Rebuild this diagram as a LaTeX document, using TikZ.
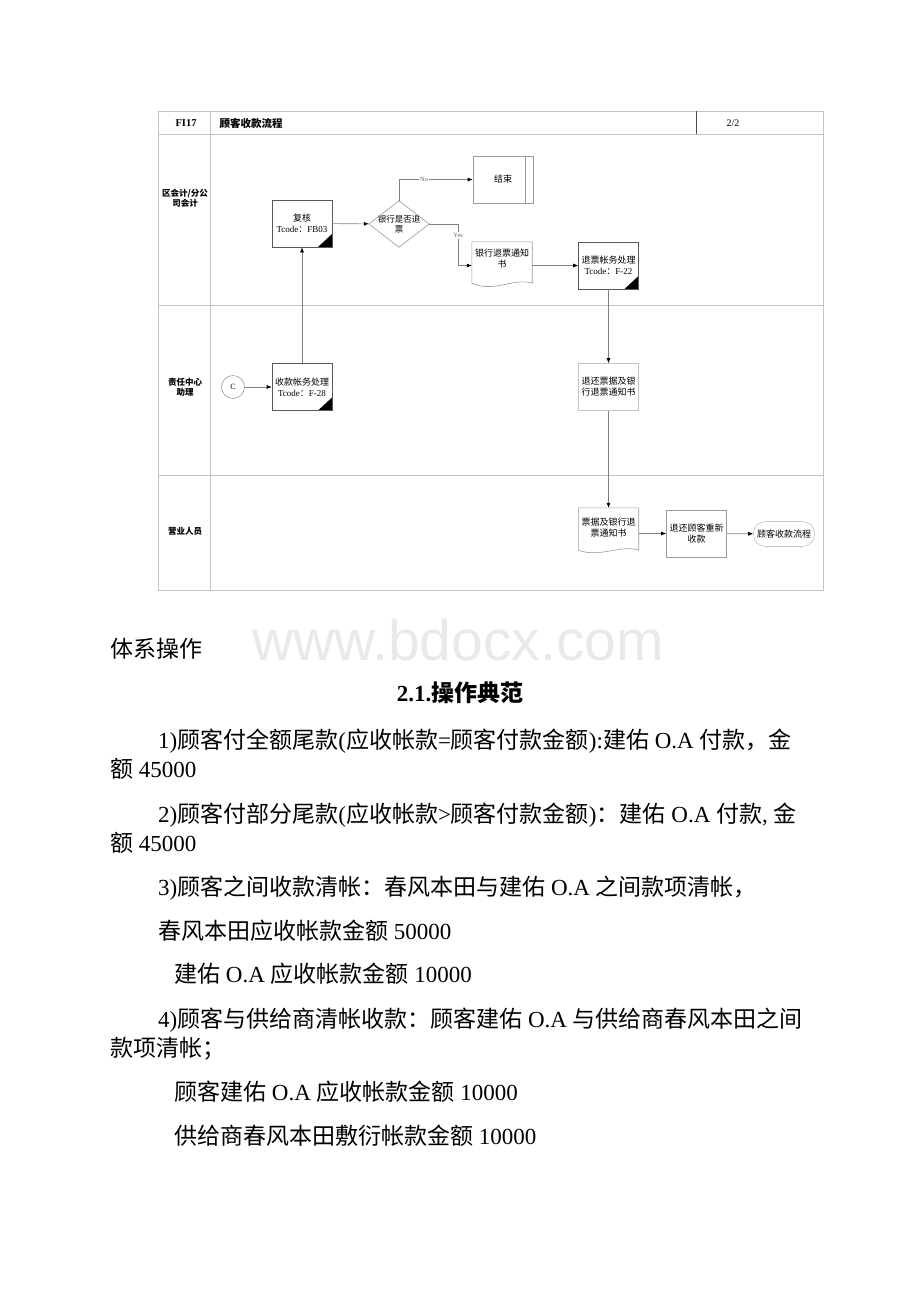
\documentclass[tikz,border=0pt]{standalone}
\usepackage{fontspec}
\setmainfont{Liberation Serif}
\newfontfamily\cjk{Noto Sans CJK SC}
\newfontfamily\marksans{Liberation Sans}
\usetikzlibrary{arrows.meta,positioning}

\newcommand{\cn}[1]{{\cjk #1}}
\newcommand{\dfont}{\fontsize{9pt}{11pt}\selectfont}

\definecolor{laneGray}{HTML}{C4C4C4}
\definecolor{boxGray}{HTML}{9A9A9A}
\definecolor{flowGray}{HTML}{808080}
\definecolor{markGray}{HTML}{E9E9E9}

\tikzset{
  lane/.style={draw=laneGray, line width=0.8pt},
  box/.style={draw=boxGray, fill=white, line width=0.6pt, minimum width=60pt, minimum height=47pt, inner sep=1pt, align=center, font=\dfont},
  task/.style={box, draw=black!65, path picture={\fill[black] (path picture bounding box.south east) -- ++(-14pt,0pt) -- ++(14pt,13pt) -- cycle;}},
  paper/.style={align=center, font=\dfont, minimum width=60pt, inner sep=1pt},
  flow/.style={draw=flowGray, line width=0.6pt, -{Latex[length=5pt,width=4pt,color=black]}},
  tag/.style={font=\fontsize{6.5pt}{7pt}\selectfont, text=black!60, fill=white, inner sep=1pt},
  lanename/.style={align=center, font=\cjk\fontsize{8.5pt}{10pt}\selectfont\bfseries},
  body/.style={anchor=base west, inner sep=0pt, font=\fontsize{23pt}{28pt}\selectfont},
}

\begin{document}
\begin{tikzpicture}[x=1pt, y=-1pt]
    \useasboundingbox (0,0) rectangle (920,1302);

    % swim lanes
    \draw[lane] (158,111) rectangle (823,590);
    \draw[lane] (158,134) -- (823,134);
    \draw[lane] (158,305) -- (823,305);
    \draw[lane] (158,475) -- (823,475);
    \draw[lane] (210,111) -- (210,590);
    \draw[black!70, line width=0.7pt] (696,111) -- (696,134);

    \node[font=\bfseries\fontsize{10.5pt}{12pt}\selectfont] (code) at (186,123) {FI17};
    \node[anchor=west, font=\cjk\bfseries\fontsize{10.5pt}{12pt}\selectfont] (title) at (216,123) {顾客收款流程};
    \node[font=\fontsize{10pt}{11pt}\selectfont] (page) at (733,123) {2/2};

    \node[lanename] (lane1) at (185,198) {区会计/分公\\司会计};
    \node[lanename] (lane2) at (185,387) {责任中心\\助理};
    \node[lanename] (lane3) at (185,531) {营业人员};

    % steps
    \node[circle, draw=boxGray, line width=0.6pt, minimum size=23pt, inner sep=0pt, font=\fontsize{8pt}{9pt}\selectfont] (c) at (233,387) {C};
    \node[task] (shou) at (302,387) {\cn{收款帐务处理}\\Tcode\cn{：}F-28};
    \node[task] (fuhe) at (302,223.5) {\cn{复核}\\Tcode\cn{：}FB03};
    \node[minimum width=60pt, minimum height=46pt, inner sep=0pt, align=center, font=\fontsize{8.5pt}{10pt}\selectfont] (dia) at (399,224) {\cn{银行是否退}\\\cn{票}};
    \draw[boxGray, line width=0.6pt] (dia.north) -- (dia.east) -- (dia.south) -- (dia.west) -- cycle;
    \node[box] (end) at (503,179.5) {\cn{结束}};
    \draw[boxGray, line width=0.6pt] ([xshift=-8pt]end.north east) -- ([xshift=-8pt]end.south east);
    \node[paper, minimum height=34pt] (doc1) at (502,259) {\cn{银行退票通知}\\\cn{书}};
    \draw[boxGray, line width=0.6pt] ([yshift=-7pt]doc1.south west) -- (doc1.north west) -- (doc1.north east) -- ([yshift=-7pt]doc1.south east)
        .. controls +(-18pt,6pt) and +(22pt,-10pt) .. ([yshift=-7pt]doc1.south west);
    \node[task] (tuipiao) at (608.5,265.5) {\cn{退票帐务处理}\\Tcode\cn{：}F-22};
    \node[box, draw=laneGray] (tuihuan) at (608.5,387) {\cn{退还票据及银}\\\cn{行退票通知书}};
    \node[paper, minimum height=40pt] (doc2) at (608.5,528) {\cn{票据及银行退}\\\cn{票通知书}};
    \draw[boxGray, line width=0.6pt] ([yshift=-2pt]doc2.south west) -- (doc2.north west) -- (doc2.north east) -- ([yshift=-2pt]doc2.south east)
        .. controls +(-18pt,6pt) and +(22pt,-8pt) .. ([yshift=-2pt]doc2.south west);
    \node[box] (shou2) at (696.5,533.5) {\cn{退还顾客重新}\\\cn{收款}};
    \node[draw=laneGray, line width=0.6pt, rounded corners=12pt, minimum width=61pt, minimum height=25pt, inner sep=1pt, font=\dfont] (fin) at (784,534) {\cn{顾客收款流程}};

    % connectors
    \draw[flow] (c) -- (shou);
    \draw[flow] (shou) -- (fuhe);
    \draw[flow] (fuhe) -- (dia);
    \draw[flow] (dia.north) |- (end.west) node[tag, pos=0.67] {No};
    \draw[flow] (dia.east) -- ++(29pt,0pt) |- (doc1.west |- tuipiao) node[tag, pos=0.14] {Yes};
    \draw[flow] (doc1.east |- tuipiao) -- (tuipiao);
    \draw[flow] (tuipiao) -- (tuihuan);
    \draw[flow] (tuihuan) -- (doc2);
    \draw[flow] (doc2.east |- shou2) -- (shou2);
    \draw[flow] (shou2) -- (fin);

    \node[anchor=base, inner sep=0pt, text=markGray, font=\marksans\fontsize{57pt}{57pt}\selectfont] (mark) at (458,660) {www.bdocx.com};

    % text below
    \node[body] (t0) at (110,657) {\cn{体系操作}};
    \node[body, anchor=base, font=\bfseries\fontsize{23pt}{28pt}\selectfont] (t1) at (460,701) {2.1.\cn{操作典范}};
    \node[body] (t2) at (158,748) {1)\cn{顾客付全额尾款}(\cn{应收帐款}=\cn{顾客付款金额}):\cn{建佑} O.A \cn{付款，金}};
    \node[body] (t3) at (110,777) {\cn{额} 45000};
    \node[body] (t4) at (158,822) {2)\cn{顾客付部分尾款}(\cn{应收帐款}>\cn{顾客付款金额})\cn{：建佑} O.A \cn{付款}, \cn{金}};
    \node[body] (t5) at (110,851) {\cn{额} 45000};
    \node[body] (t6) at (158,895) {3)\cn{顾客之间收款清帐：春风本田与建佑} O.A \cn{之间款项清帐，}};
    \node[body] (t7) at (158,939) {\cn{春风本田应收帐款金额} 50000};
    \node[body] (t8) at (174,982) {\cn{建佑} O.A \cn{应收帐款金额} 10000};
    \node[body] (t9) at (158,1027) {4)\cn{顾客与供给商清帐收款：顾客建佑} O.A \cn{与供给商春风本田之间}};
    \node[body] (t10) at (110,1056) {\cn{款项清帐；}};
    \node[body] (t11) at (174,1100) {\cn{顾客建佑} O.A \cn{应收帐款金额} 10000};
    \node[body] (t12) at (174,1144) {\cn{供给商春风本田敷衍帐款金额} 10000};
\end{tikzpicture}
\end{document}
